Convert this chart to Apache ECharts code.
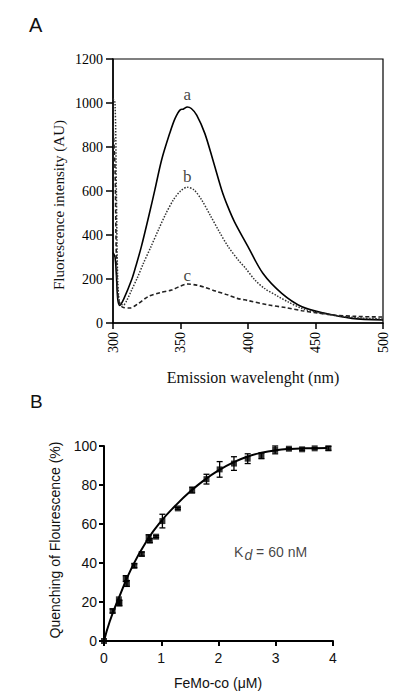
<!DOCTYPE html>
<html><head><meta charset="utf-8">
<script src="https://cdn.jsdelivr.net/npm/echarts@6/dist/echarts.min.js"></script>
<style>html,body{margin:0;padding:0;background:#fff}#c{width:400px;height:700px}</style>
</head><body><div id="c"></div>
<script>
// Panel A: emission spectra
const wlA = [300,301.5,302.5,303.5,305,308,314,317,321,327,331,336,342,346,350,352,355,358,362,368,374,380.5,385,390,400,411,425,440,457,477,500];
const valA = [320,300,220,110,80,110,200,260,347,499,605,741,862,930,970,972,982,975,945,862,741,605,530,460,347,226,135,74,44,21,14];
const wlB = [300,301.5,302.5,303.5,305,307.7,310,313.8,318,322.5,328,333.6,339,344.7,350,355,360,365.7,372,378,385,392.8,398,405.2,412,422.5,430,439.8,454.5,470,485,500];
const valB = [1020,1000,600,200,90,82,100,150,205,271,345,423,495,559,600,617,605,559,490,423,350,286,250,195,158,120,95,67,44,30,22,18];
const wlC = [300,301.5,302.5,304,307,312.6,318,326,335,343.4,350,355.3,362,368,376,385.4,392,400,415,428,440,452,464,480,500];
const valC = [900,700,300,110,72,68,85,120,138,150,168,177,172,162,145,127,112,102,82,70,56,45,36,30,27];
const curveLabels = ['a','b','c'];
const curveLabelPos = [[355,1040],[355,665],[355,218]];

// Panel B: quenching titration
const qX = [0,0.15,0.26,0.27,0.38,0.40,0.53,0.66,0.78,0.80,0.91,1.02,1.29,1.54,1.79,2.02,2.27,2.51,2.75,2.99,3.23,3.46,3.68,3.92];
const qY = [0,15.4,20.5,19.5,32,29.5,38.6,44.6,53,51.5,53.5,61.5,68,77.4,83,88,91,93.5,95,98,98.6,98.3,98.8,98.8];
const qErr = [0,1,2,1.5,1.5,1.5,1,1,1.5,1,0.5,3.5,0.5,1.5,2.5,4,3.5,2.5,1.5,2,0.5,0.5,0.3,1];
const fitX = [0,0.1,0.25,0.5,0.75,1,1.25,1.5,1.75,2,2.25,2.5,2.75,3,3.25,3.5,3.9];
const fitY = [0,10,21.5,38.5,51.5,61.5,69.5,76.5,82.5,87.5,91.5,94.5,96.5,97.8,98.5,98.8,99];
const kdPos = [2.91,45.6];

const zip = (a,b)=>a.map((v,i)=>[v,b[i]]);
const times = "Liberation Serif";
const sans = "Liberation Sans";
const plain = v => String(v);

const chart = echarts.init(document.getElementById('c'), null, {renderer:'svg'});
chart.setOption({
  animation:false,
  backgroundColor:'#fff',
  grid:[
    {left:113, top:59, width:270, height:264, show:true, borderColor:'#000', borderWidth:1.2, backgroundColor:'transparent'},
    {left:104, top:446, width:229, height:195}
  ],
  xAxis:[
    {gridIndex:0, type:'value', min:300, max:500, interval:50,
     axisLine:{lineStyle:{color:'#000', width:1.5}},
     axisTick:{length:6, lineStyle:{color:'#000', width:1.5}},
     axisLabel:{rotate:90, margin:9, color:'#000', fontFamily:times, fontSize:14, formatter:plain},
     splitLine:{show:false}},
    {gridIndex:1, type:'value', min:0, max:4, interval:1,
     axisLine:{lineStyle:{color:'#000', width:2}},
     axisTick:{length:5, lineStyle:{color:'#000', width:2}},
     axisLabel:{margin:10, color:'#111', fontFamily:sans, fontSize:14, formatter:plain},
     splitLine:{show:false}}
  ],
  yAxis:[
    {gridIndex:0, type:'value', min:0, max:1200, interval:200,
     axisLine:{show:true, lineStyle:{color:'#000', width:1.5}},
     axisTick:{show:true, length:7, lineStyle:{color:'#000', width:1.5}},
     axisLabel:{margin:10, color:'#000', fontFamily:times, fontSize:14, formatter:plain},
     splitLine:{show:false}},
    {gridIndex:1, type:'value', min:0, max:100, interval:20,
     axisLine:{show:true, lineStyle:{color:'#000', width:2}},
     axisTick:{show:true, length:5, lineStyle:{color:'#000', width:2}},
     axisLabel:{margin:7, color:'#111', fontFamily:sans, fontSize:14, formatter:plain},
     splitLine:{show:false}}
  ],
  graphic:[
    {type:'text', left:29, top:15, style:{text:'A', font:'20px "Liberation Sans"', fill:'#111'}},
    {type:'text', left:30, top:392, style:{text:'B', font:'19px "Liberation Sans"', fill:'#111'}},
    {type:'text', x:253, y:377, style:{text:'Emission wavelenght (nm)', font:'16px "Liberation Serif"', fill:'#111', align:'center', verticalAlign:'middle'}},
    {type:'text', x:59, y:205, rotation:Math.PI/2, style:{text:'Fluorescence intensity (AU)', font:'15px "Liberation Serif"', fill:'#111', align:'center', verticalAlign:'middle'}},
    {type:'text', x:218, y:683, style:{text:'FeMo-co (μM)', font:'14px "Liberation Sans"', fill:'#111', align:'center', verticalAlign:'middle'}},
    {type:'text', x:55, y:540, rotation:Math.PI/2, style:{text:'Quenching of Flourescence (%)', font:'14px "Liberation Sans"', fill:'#111', align:'center', verticalAlign:'middle'}}
  ],
  series:[
    {type:'line', xAxisIndex:0, yAxisIndex:0, data:zip(wlA,valA), smooth:0.3, showSymbol:false,
     lineStyle:{color:'#000', width:1.6}},
    {type:'line', xAxisIndex:0, yAxisIndex:0, data:zip(wlB,valB), smooth:0.3, showSymbol:false,
     lineStyle:{color:'#333', width:1.5, type:[1.5,1.5]}},
    {type:'line', xAxisIndex:0, yAxisIndex:0, data:zip(wlC,valC), smooth:0.3, showSymbol:false,
     lineStyle:{color:'#222', width:1.6, type:[4,2.5]}},
    {type:'scatter', xAxisIndex:0, yAxisIndex:0, symbolSize:0,
     data:curveLabelPos.map((p,i)=>({value:p, name:curveLabels[i]})),
     label:{show:true, position:'inside', formatter:'{b}', color:'#111', fontFamily:times, fontSize:17}},
    {type:'line', xAxisIndex:1, yAxisIndex:1, data:zip(fitX,fitY), smooth:true, showSymbol:false,
     lineStyle:{color:'#000', width:2}},
    {type:'custom', xAxisIndex:1, yAxisIndex:1, data:qX.map((x,i)=>[x,qY[i],qErr[i]]),
     renderItem:function(params, api){
       const x = api.value(0), y = api.value(1), e = api.value(2);
       if (!e) return null;
       const hi = api.coord([x, y+e]), lo = api.coord([x, y-e]);
       const w = 3;
       const st = {stroke:'#000', lineWidth:1.3};
       return {type:'group', children:[
         {type:'line', shape:{x1:hi[0],y1:hi[1],x2:lo[0],y2:lo[1]}, style:st},
         {type:'line', shape:{x1:hi[0]-w,y1:hi[1],x2:hi[0]+w,y2:hi[1]}, style:st},
         {type:'line', shape:{x1:lo[0]-w,y1:lo[1],x2:lo[0]+w,y2:lo[1]}, style:st}
       ]};
     }, z:3},
    {type:'scatter', xAxisIndex:1, yAxisIndex:1, data:zip(qX,qY), symbol:'rect', symbolSize:6,
     itemStyle:{color:'#000'}, z:4},
    {type:'scatter', xAxisIndex:1, yAxisIndex:1, symbolSize:0, data:[{value:kdPos}],
     label:{show:true, position:'inside', formatter:'{k|K}{d|d}{k| = 60 nM}',
       rich:{k:{fontFamily:sans, fontSize:14, color:'#111'}, d:{fontFamily:sans, fontSize:14, fontStyle:'italic', color:'#111', verticalAlign:'bottom', padding:[6,0,0,1]}}}}
  ]
});
</script></body></html>
